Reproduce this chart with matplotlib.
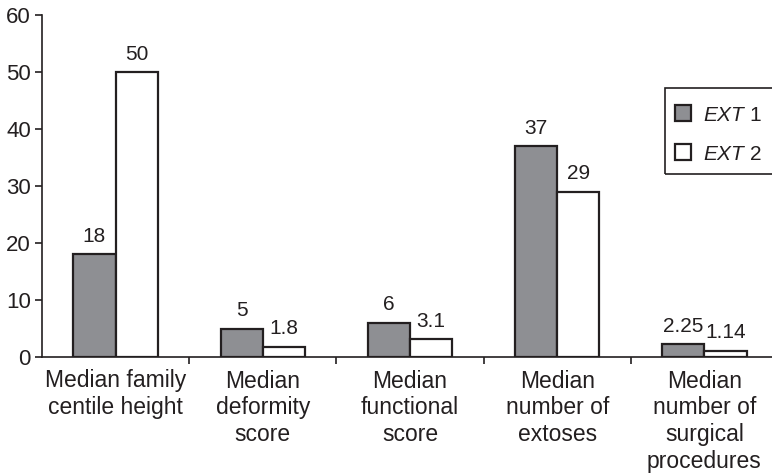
import matplotlib
matplotlib.use("Agg")
import matplotlib.pyplot as plt
from matplotlib.patches import Rectangle
import numpy as np

plt.rcParams['font.family'] = ['Liberation Sans', 'DejaVu Sans']
plt.rcParams['mathtext.fontset'] = 'custom'
plt.rcParams['mathtext.it'] = 'Liberation Sans:italic'
plt.rcParams['mathtext.rm'] = 'Liberation Sans'

categories = ["Median family\ncentile height", "Median\ndeformity\nscore",
              "Median\nfunctional\nscore", "Median\nnumber of\nextoses",
              "Median\nnumber of\nsurgical\nprocedures"]
ext1 = [18, 5, 6, 37, 2.25]
ext2 = [50, 1.8, 3.1, 29, 1.14]
ext1_labels = ["18", "5", "6", "37", "2.25"]
ext2_labels = ["50", "1.8", "3.1", "29", "1.14"]

ink = '#231f20'

fig = plt.figure(figsize=(7.72, 4.74), dpi=100)
ax = fig.add_axes([42/772, 117/474, 736/772, 342/474])

x = np.arange(len(categories))
w = 0.287
ax.bar(x - w/2, ext1, w, color='#8e8f93', edgecolor=ink, linewidth=1.6,
       label=r'$\mathit{EXT}$ 1')
ax.bar(x + w/2, ext2, w, color='white', edgecolor=ink, linewidth=1.6,
       label=r'$\mathit{EXT}$ 2')

for xi, v, s in zip(x - w/2, ext1, ext1_labels):
    ax.annotate(s, (xi, v), xytext=(0, 6), textcoords='offset points',
                ha='center', va='bottom', fontsize=15, color=ink)
for xi, v, s in zip(x + w/2, ext2, ext2_labels):
    ax.annotate(s, (xi, v), xytext=(0, 6), textcoords='offset points',
                ha='center', va='bottom', fontsize=15, color=ink)

ax.set_xlim(-0.5, 4.5)
ax.set_ylim(0, 60)
ax.set_yticks(range(0, 61, 10))
ax.set_xticks(x[:-1] + 0.5)
ax.set_xticklabels([])
ax.set_xticks(x, minor=True)
ax.set_xticklabels(categories, minor=True, fontsize=16.5, linespacing=1.22,
                   color=ink)
ax.tick_params(axis='x', which='minor', length=0, pad=9)
ax.tick_params(axis='x', which='major', length=5, width=1.2, direction='out',
               color=ink)
ax.tick_params(axis='y', length=5, width=1.2, labelsize=16, color=ink,
               labelcolor=ink, pad=3)

for side in ['top', 'right']:
    ax.spines[side].set_visible(False)
for side in ['left', 'bottom']:
    ax.spines[side].set_linewidth(1.2)
    ax.spines[side].set_color(ink)

leg = ax.legend(loc='upper left', bbox_to_anchor=(662/772, 1 - 93/474),
                bbox_transform=fig.transFigure, fontsize=15, frameon=False,
                handlelength=0.8, handleheight=0.8, handletextpad=0.55,
                labelspacing=0.95, borderpad=0.6, borderaxespad=0)
for t in leg.get_texts():
    t.set_color(ink)

# legend box runs off the right edge of the figure
fig.patches.append(Rectangle((665/772, 1 - 174/474), 0.2, 86/474,
                             transform=fig.transFigure, fill=False,
                             edgecolor=ink, linewidth=1.2))

fig.savefig("out.png", dpi=100)
